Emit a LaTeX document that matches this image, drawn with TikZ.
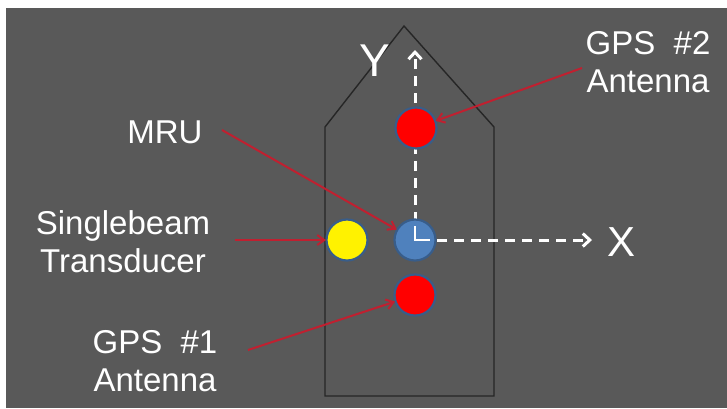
\documentclass[tikz,border=0pt]{standalone}
\usepackage{fontspec}
\setmainfont{Liberation Sans}
\usetikzlibrary{arrows.meta}
\definecolor{bg}{RGB}{89,89,89}
\definecolor{pointer}{RGB}{192,32,48}
\definecolor{mrublue}{RGB}{79,129,189}
\definecolor{rim}{RGB}{56,93,138}
\tikzset{
  lbl/.style={text=white, font=\fontsize{33}{38}\selectfont, align=center, inner sep=0pt},
  axislbl/.style={text=white, inner sep=0pt},
  dot/.style={circle, draw=rim, line width=2.2pt, minimum size=41pt, inner sep=0pt, outer sep=0.5pt},
  pointerline/.style={draw=pointer, line width=2pt, -{Straight Barb[length=7pt,width=10pt,line width=2pt]}},
  axisline/.style={draw=white, line width=3pt, dash pattern=on 10pt off 7pt, -{Straight Barb[length=7pt,width=13pt,line width=3pt]}},
  hull/.style={draw=black!85, line width=1.4pt, line join=miter}
}
\begin{document}
\begin{tikzpicture}[x=1pt,y=-1pt]
\useasboundingbox (0,0) rectangle (727,408);
\fill[white] (0,0) rectangle (727,408);
\fill[bg] (6,8) rectangle (727,408);
% hull
\draw[hull] (325,396) -- (325,127) -- (404,26) -- (494,127) -- (494,396) -- cycle;
% axes
\coordinate (origin) at (415,240);
\coordinate (ytip) at (415,50);
\coordinate (xtip) at (592,240);
\coordinate (ystart) at (415,222);
\coordinate (xstart) at (437,240);
\draw[axisline] (ystart) -- (ytip);
\draw[axisline] (xstart) -- (xtip);
% circles
\node[dot, fill=red] (gps2) at (416,128) {};
\node[dot, fill=red] (gps1) at (415,295) {};
\node[dot, fill=yellow] (sb) at (347,240) {};
\node[dot, fill=mrublue] (mru) at (415,240) {};
\draw[white, line width=2.2pt] (415,226) -- (415,240) -- (430,240);
% axis labels
\node[axislbl, font=\fontsize{46}{46}\selectfont] (ylbl) at (375,61) {Y};
\node[axislbl, font=\fontsize{42}{42}\selectfont] (xlbl) at (621,242) {X};
% text labels
\node[lbl] (t2) at (648,62) {GPS~~\#2\\Antenna};
\node[lbl] (tm) at (165,132) {MRU};
\node[lbl] (ts) at (123,242) {Singlebeam\\Transducer};
\node[lbl] (t1) at (155,361) {GPS~~\#1\\Antenna};
% pointer starts
\coordinate (p2) at (582,68);
\coordinate (pm) at (222,130);
\coordinate (ps) at (235,240);
\coordinate (p1) at (248,350);
\draw[pointerline] (p2) -- (gps2);
\draw[pointerline] (pm) -- (mru);
\draw[pointerline] (ps) -- (sb);
\draw[pointerline] (p1) -- (gps1);
\end{tikzpicture}
\end{document}
